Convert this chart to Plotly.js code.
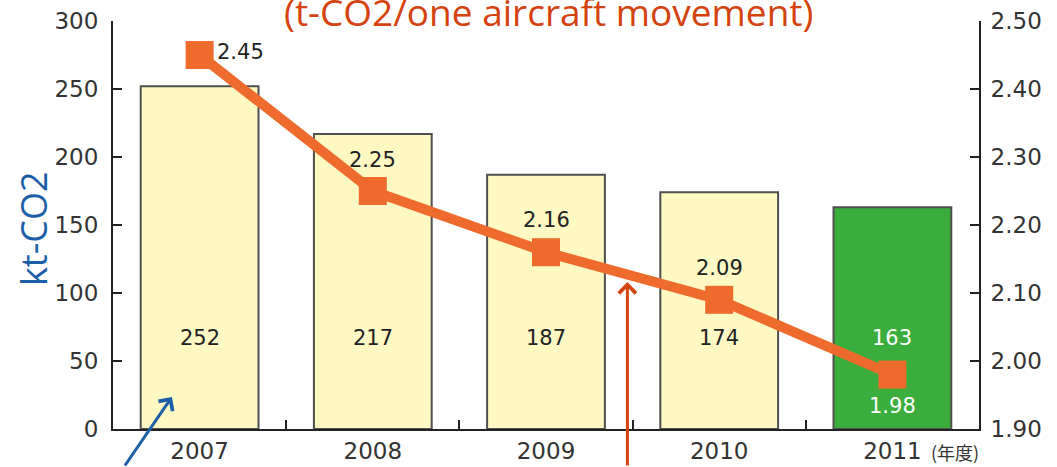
<!DOCTYPE html>
<html>
<head>
<meta charset="utf-8">
<script src="https://cdn.plot.ly/plotly-3.0.1.min.js"></script>
<style>html,body{margin:0;padding:0;background:#fff;}#chart{width:1057px;height:467px;}</style>
</head>
<body>
<div id="chart"></div>
<script>
// ---- data ----
const years = ["2007", "2008", "2009", "2010", "2011"];
const emissions = [252, 217, 187, 174, 163];            // kt-CO2 (bars, left axis)
const perMovement = [2.45, 2.25, 2.16, 2.09, 1.98];     // t-CO2 / aircraft movement (line, right axis)
const barColors = ["#fef8c3", "#fef8c3", "#fef8c3", "#fef8c3", "#3bad3c"];
const barLabelColors = ["#222", "#222", "#222", "#222", "#ffffff"];
const lineLabelColors = ["#222", "#222", "#222", "#222", "#ffffff"];
const lineLabelShift = [[41, 3], [0, 31], [0, 32], [0, 32], [0, -31]];
const leftTicks = [0, 50, 100, 150, 200, 250, 300];
const rightTicks = [1.9, 2.0, 2.1, 2.2, 2.3, 2.4, 2.5];
const titleText = "(t-CO2/one aircraft movement)";
const yTitleText = "kt-CO2";
const fiscalYearText = "(年度)";

const orange = "#ee6b2d";

const traces = [
  {
    type: "bar",
    x: years,
    y: emissions,
    width: 0.68,
    marker: { color: barColors, line: { color: "#4f4f4f", width: 2 } },
    hoverinfo: "x+y",
    yaxis: "y"
  },
  {
    type: "scatter",
    mode: "lines+markers",
    x: years,
    y: perMovement,
    yaxis: "y2",
    line: { color: orange, width: 10 },
    marker: { symbol: "square", size: 28, color: orange },
    cliponaxis: false
  }
];

const annotations = [];
// bar value labels (x given as category index)
years.forEach((yr, i) => {
  annotations.push({
    x: i, y: 67, xref: "x", yref: "y",
    text: String(emissions[i]), showarrow: false,
    font: { family: "DejaVu Sans", size: 21, color: barLabelColors[i] }
  });
});
// line value labels
years.forEach((yr, i) => {
  annotations.push({
    x: i, y: perMovement[i], xref: "x", yref: "y2",
    text: perMovement[i].toFixed(2), showarrow: false,
    xshift: lineLabelShift[i][0], yshift: lineLabelShift[i][1],
    font: { family: "DejaVu Sans", size: 21, color: lineLabelColors[i] }
  });
});
// title (partially cut at top, as in the original)
annotations.push({
  xref: "paper", yref: "paper", x: 0.503, y: 1, xanchor: "center", yanchor: "middle", yshift: 10,
  text: titleText, showarrow: false,
  font: { family: "Open Sans", size: 37, color: "#d4430f" }
});
// left axis title
annotations.push({
  xref: "paper", yref: "paper", x: 0, y: 0.49, xanchor: "center", yanchor: "middle", xshift: -80,
  text: yTitleText, textangle: -90, showarrow: false,
  font: { family: "Open Sans", size: 36, color: "#1d5ea8" }
});
// fiscal year marker
annotations.push({
  xref: "x", yref: "paper", x: 4, y: 0, yanchor: "middle", yshift: -23, xshift: 63,
  text: fiscalYearText, showarrow: false,
  font: { family: "Noto Sans CJK JP", size: 18, color: "#333" }
});
// arrows
annotations.push({
  xref: "x", yref: "y", x: -0.16, y: 23.5, ax: -48, ay: 75,
  text: "", showarrow: true, arrowhead: 4, arrowsize: 1.1, arrowwidth: 3,
  arrowcolor: "#1d5ea8"
});
annotations.push({
  xref: "x", yref: "y", x: 2.47, y: 108, ax: 0, ay: 195,
  text: "", showarrow: true, arrowhead: 4, arrowsize: 1.1, arrowwidth: 3,
  arrowcolor: "#d4430f"
});

const tickFont = { family: "DejaVu Sans", size: 23, color: "#333" };

const layout = {
  width: 1057, height: 467,
  margin: { l: 113, r: 78, t: 21, b: 38 },
  paper_bgcolor: "#ffffff", plot_bgcolor: "#ffffff",
  showlegend: false,
  font: { family: "DejaVu Sans", size: 20, color: "#333" },
  xaxis: {
    type: "category", range: [-0.5, 4.5],
    showline: true, linecolor: "#222", linewidth: 2,
    ticks: "inside", tickson: "boundaries", ticklen: 9, tickwidth: 2, tickcolor: "#222",
    showgrid: false, zeroline: false,
    tickfont: tickFont
  },
  yaxis: {
    range: [0, 300], tickvals: leftTicks,
    showline: true, linecolor: "#222", linewidth: 2,
    ticks: "inside", ticklen: 9, tickwidth: 2, tickcolor: "#222",
    ticklabelstandoff: 8,
    showgrid: false, zeroline: false,
    tickfont: tickFont
  },
  yaxis2: {
    range: [1.9, 2.5], tickvals: rightTicks, tickformat: ".2f",
    overlaying: "y", side: "right",
    showline: true, linecolor: "#222", linewidth: 2,
    ticks: "inside", ticklen: 9, tickwidth: 2, tickcolor: "#222",
    ticklabelstandoff: 5,
    showgrid: false, zeroline: false,
    tickfont: tickFont
  },
  annotations: annotations
};

Plotly.newPlot("chart", traces, layout, { displayModeBar: false, staticPlot: true });
</script>
</body>
</html>
